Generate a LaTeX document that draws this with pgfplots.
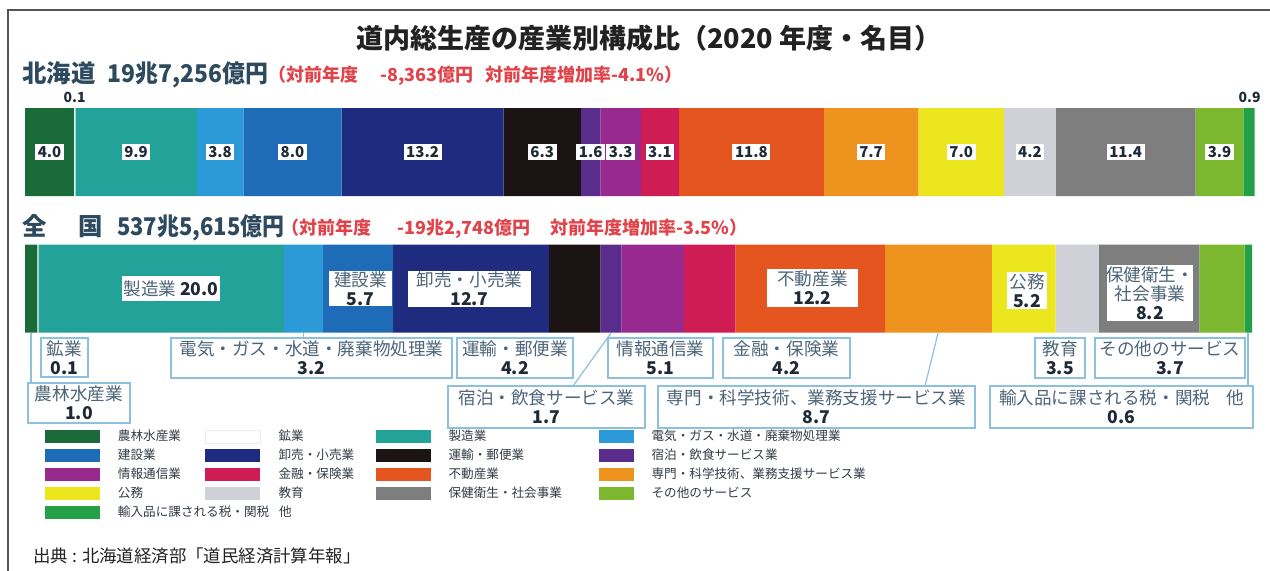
\documentclass[border=0pt]{standalone}
\usepackage{pgfplots}
\pgfplotsset{compat=1.18}
\usepackage{fontspec}
\setmainfont{Noto Sans CJK JP}
\setsansfont{Noto Sans CJK JP}

\definecolor{c01}{HTML}{1B6B3A}
\definecolor{c02}{HTML}{FFFFFF}
\definecolor{c03}{HTML}{22A299}
\definecolor{c04}{HTML}{2C9AD6}
\definecolor{c05}{HTML}{1E6BB8}
\definecolor{c06}{HTML}{1F2B7E}
\definecolor{c07}{HTML}{1C1414}
\definecolor{c08}{HTML}{5A2D8C}
\definecolor{c09}{HTML}{97298F}
\definecolor{c10}{HTML}{CF1C55}
\definecolor{c11}{HTML}{E4551F}
\definecolor{c12}{HTML}{EF931F}
\definecolor{c13}{HTML}{ECE61E}
\definecolor{c14}{HTML}{D0D0D8}
\definecolor{c15}{HTML}{7E7E7E}
\definecolor{c16}{HTML}{7CB82F}
\definecolor{c17}{HTML}{23A048}
\definecolor{titlec}{HTML}{222222}
\definecolor{headc}{HTML}{2D4A5E}
\definecolor{redc}{HTML}{E0444A}
\definecolor{labname}{HTML}{4D6578}
\definecolor{labnum}{HTML}{1E2A36}
\definecolor{callout}{HTML}{8CC0DC}
\definecolor{framec}{HTML}{555555}
\definecolor{legtext}{HTML}{333B45}

\newcommand{\fs}[2]{\fontsize{#1bp}{#2bp}\selectfont}

\tikzset{
  px/.style={x=0.5bp, y=-0.5bp},
  hl/.style={fill=white, inner sep=1.3bp, font=\fs{7.5}{8}\bfseries, text=labnum},
  cbox/.style={draw=callout, line width=0.6bp, fill=white},
  ctext/.style={align=center, font=\fs{8.8}{9.6}, text=labname, inner sep=0pt},
}
\pgfplotsset{
  narrowsw/.style={legend image code/.code={\fill[##1] (0bp,-3.25bp) rectangle (17.5bp,3.25bp);}},
  whitesw/.style={legend image code/.code={\filldraw[fill=white, draw=gray!15, line width=0.3bp] (0bp,-3.25bp) rectangle (27.5bp,3.25bp);}},
}

\begin{document}
\begin{tikzpicture}
\begin{scope}[px]
\path[use as bounding box] (0,0) rectangle (1270,571);
\draw[line width=0.8bp, framec] (8,571) -- (8,10) -- (1270,10);

% title and headers
\node[font=\fs{13.5}{15}\bfseries, text=titlec] at (649,38) {道内総生産の産業別構成比（2020 年度・名目）};
\node[anchor=west, inner sep=0pt, font=\fs{12.2}{14}\bfseries, text=headc] at (22,75) {北海道\hspace{6bp}\scalebox{0.94}[1]{19兆7,256億円}};
\node[anchor=west, inner sep=0pt, font=\fs{9}{10}\bfseries, text=redc] at (268,76) {（対前年度\hspace{11bp}-8,363億円\hspace{6bp}対前年度増加率-4.1\%）};
\node[anchor=west, inner sep=0pt, font=\fs{12.2}{14}\bfseries, text=headc] at (22,228) {全\hspace{16bp}国\hspace{7bp}\scalebox{0.9}[1]{537兆5,615億円}};
\node[anchor=west, inner sep=0pt, font=\fs{9}{10}\bfseries, text=redc] at (281,229) {（対前年度\hspace{13bp}-19兆2,748億円\hspace{10bp}対前年度増加率-3.5\%）};
\end{scope}

\begin{axis}[
  at={(12.5bp,-170bp)}, anchor=south west,
  width=613.5bp, height=120bp, scale only axis,
  xbar stacked, bar width=88,
  xmin=0, xmax=100, ymin=-340, ymax=-100,
  axis lines=none, clip=false,
  legend columns=4,
  legend cell align=left,
  legend image code/.code={\fill[#1] (0bp,-3.25bp) rectangle (27.5bp,3.25bp);},
  legend style={
    at={(0.0163,-0.375)}, anchor=north west,
    draw=none, fill=none, inner sep=0pt, outer sep=0pt,
    row sep=2.65bp,
    font=\fs{6.3}{7},
    text=legtext,
    nodes={inner sep=0pt},
    /tikz/every odd column/.append style={column sep=9bp},
    /tikz/every even column/.append style={column sep=0bp},
  },
]
\addplot[fill=c01, draw=none] coordinates {(4.0,-152) (1.0,-288.5)};
\addlegendentry{\makebox[43.5bp][l]{農林水産業}}
\addplot[fill=c02, draw=none, whitesw] coordinates {(0.1,-152) (0.1,-288.5)};
\addlegendentry{\makebox[48.5bp][l]{鉱業}}
\addplot[fill=c03, draw=none] coordinates {(9.9,-152) (20.0,-288.5)};
\addlegendentry{\makebox[75bp][l]{製造業}}
\addplot[fill=c04, draw=none, narrowsw] coordinates {(3.8,-152) (3.2,-288.5)};
\addlegendentry{電気・ガス・水道・廃棄物処理業}
\addplot[fill=c05, draw=none] coordinates {(8.0,-152) (5.7,-288.5)};
\addlegendentry{\makebox[43.5bp][l]{建設業}}
\addplot[fill=c06, draw=none] coordinates {(13.2,-152) (12.7,-288.5)};
\addlegendentry{\makebox[48.5bp][l]{卸売・小売業}}
\addplot[fill=c07, draw=none] coordinates {(6.3,-152) (4.2,-288.5)};
\addlegendentry{\makebox[75bp][l]{運輸・郵便業}}
\addplot[fill=c08, draw=none, narrowsw] coordinates {(1.6,-152) (1.7,-288.5)};
\addlegendentry{宿泊・飲食サービス業}
\addplot[fill=c09, draw=none] coordinates {(3.3,-152) (5.1,-288.5)};
\addlegendentry{\makebox[43.5bp][l]{情報通信業}}
\addplot[fill=c10, draw=none] coordinates {(3.1,-152) (4.2,-288.5)};
\addlegendentry{\makebox[48.5bp][l]{金融・保険業}}
\addplot[fill=c11, draw=none] coordinates {(11.8,-152) (12.2,-288.5)};
\addlegendentry{\makebox[75bp][l]{不動産業}}
\addplot[fill=c12, draw=none, narrowsw] coordinates {(7.7,-152) (8.7,-288.5)};
\addlegendentry{専門・科学技術、業務支援サービス業}
\addplot[fill=c13, draw=none] coordinates {(7.0,-152) (5.2,-288.5)};
\addlegendentry{\makebox[43.5bp][l]{公務}}
\addplot[fill=c14, draw=none] coordinates {(4.2,-152) (3.5,-288.5)};
\addlegendentry{\makebox[48.5bp][l]{教育}}
\addplot[fill=c15, draw=none] coordinates {(11.4,-152) (8.2,-288.5)};
\addlegendentry{\makebox[75bp][l]{保健衛生・社会事業}}
\addplot[fill=c16, draw=none, narrowsw] coordinates {(3.9,-152) (3.7,-288.5)};
\addlegendentry{その他のサービス}
\addplot[fill=c17, draw=none] coordinates {(0.9,-152) (0.6,-288.5)};
\addlegendentry{\makebox[43.5bp][l]{輸入品に課される税・関税\hspace{5bp}他}}

% anchor points of the Hokkaido labels (segment centres)
\coordinate (h01) at (axis cs:2.0,-152);
\coordinate (h02) at (axis cs:4.05,-97);
\coordinate (h03) at (axis cs:9.05,-152);
\coordinate (h04) at (axis cs:15.9,-152);
\coordinate (h05) at (axis cs:21.8,-152);
\coordinate (h06) at (axis cs:32.4,-152);
\coordinate (h07) at (axis cs:42.15,-152);
\coordinate (h08) at (axis cs:46.1,-152);
\coordinate (h09) at (axis cs:48.55,-152);
\coordinate (h10) at (axis cs:51.75,-152);
\coordinate (h11) at (axis cs:59.2,-152);
\coordinate (h12) at (axis cs:68.95,-152);
\coordinate (h13) at (axis cs:76.3,-152);
\coordinate (h14) at (axis cs:81.9,-152);
\coordinate (h15) at (axis cs:89.7,-152);
\coordinate (h16) at (axis cs:97.35,-152);
\coordinate (h17) at (axis cs:99.8,-97);
\end{axis}

\node[hl] at (h01) {4.0};
\node[font=\fs{7}{8}\bfseries, text=labnum, inner sep=0pt] at (h02) {0.1};
\node[hl] at (h03) {9.9};
\node[hl] at (h04) {3.8};
\node[hl] at (h05) {8.0};
\node[hl] at (h06) {13.2};
\node[hl] at (h07) {6.3};
\node[hl] at (h08) {1.6};
\node[hl] at (h09) {3.3};
\node[hl] at (h10) {3.1};
\node[hl] at (h11) {11.8};
\node[hl] at (h12) {7.7};
\node[hl] at (h13) {7.0};
\node[hl] at (h14) {4.2};
\node[hl] at (h15) {11.4};
\node[hl] at (h16) {3.9};
\node[font=\fs{7}{8}\bfseries, text=labnum, inner sep=0pt] at (h17) {0.9};

\begin{scope}[px]
% national labels inside bar
\fill[white] (122,276) rectangle (220,301);
\node[ctext] at (171,288.5) {製造業 \textcolor{labnum}{\bfseries 20.0}};
\fill[white] (329,271) rectangle (392,306);
\node[ctext] at (360.5,288.5) {建設業\\\textcolor{labnum}{\bfseries 5.7}};
\fill[white] (408,271) rectangle (531,307);
\node[ctext] at (469.5,289) {卸売・小売業\\\textcolor{labnum}{\bfseries 12.7}};
\fill[white] (767,269) rectangle (858,307);
\node[ctext] at (812.5,288) {不動産業\\\textcolor{labnum}{\bfseries 12.2}};
\fill[white] (1007,272) rectangle (1047,309);
\node[ctext] at (1027,290.5) {公務\\\textcolor{labnum}{\bfseries 5.2}};
\fill[white] (1107,265) rectangle (1193,321);
\node[ctext] at (1150,293) {保健衛生・\\社会事業\\\textcolor{labnum}{\bfseries 8.2}};

% leader lines
\begin{scope}[draw=callout, line width=0.6bp]
\draw (31,333) -- (31,383);
\draw (303.5,333) -- (303.5,338);
\draw (611,333) -- (573,386);
\draw (938,333) -- (925,386);
\draw (1248,333) -- (1248,386);
\end{scope}

% callouts below bar
\draw[cbox] (41,338) rectangle (88,377);
\node[ctext] at (64.5,357.5) {鉱業\\\textcolor{labnum}{\bfseries 0.1}};
\draw[cbox] (28,383) rectangle (130,423);
\node[ctext] at (79,403) {農林水産業\\\textcolor{labnum}{\bfseries 1.0}};
\draw[cbox] (171,338) rectangle (452,378);
\node[ctext] at (311.5,358) {電気・ガス・水道・廃棄物処理業\\\textcolor{labnum}{\bfseries 3.2}};
\draw[cbox] (457,338) rectangle (573,378);
\node[ctext] at (515,358) {運輸・郵便業\\\textcolor{labnum}{\bfseries 4.2}};
\draw[cbox] (448,386) rectangle (645,428);
\node[ctext] at (546.5,407) {宿泊・飲食サービス業\\\textcolor{labnum}{\bfseries 1.7}};
\draw[cbox] (608,338) rectangle (713,378);
\node[ctext] at (660.5,358) {情報通信業\\\textcolor{labnum}{\bfseries 5.1}};
\draw[cbox] (723,338) rectangle (850,378);
\node[ctext] at (786.5,358) {金融・保険業\\\textcolor{labnum}{\bfseries 4.2}};
\draw[cbox] (658,386) rectangle (975,428);
\node[ctext] at (816.5,407) {専門・科学技術、業務支援サービス業\\\textcolor{labnum}{\bfseries 8.7}};
\draw[cbox] (1035,338) rectangle (1085,378);
\node[ctext] at (1060,358) {教育\\\textcolor{labnum}{\bfseries 3.5}};
\draw[cbox] (1095,338) rectangle (1245,378);
\node[ctext] at (1170,358) {その他のサービス\\\textcolor{labnum}{\bfseries 3.7}};
\draw[cbox] (990,386) rectangle (1253,428);
\node[ctext] at (1121.5,407) {輸入品に課される税・関税\hspace{8bp}他\\\textcolor{labnum}{\bfseries 0.6}};

% source
\node[anchor=west, inner sep=0pt, font=\fs{8.7}{10}, text=titlec] at (33,556) {出典 : 北海道経済部「道民経済計算年報」};
\end{scope}
\end{tikzpicture}
\end{document}
